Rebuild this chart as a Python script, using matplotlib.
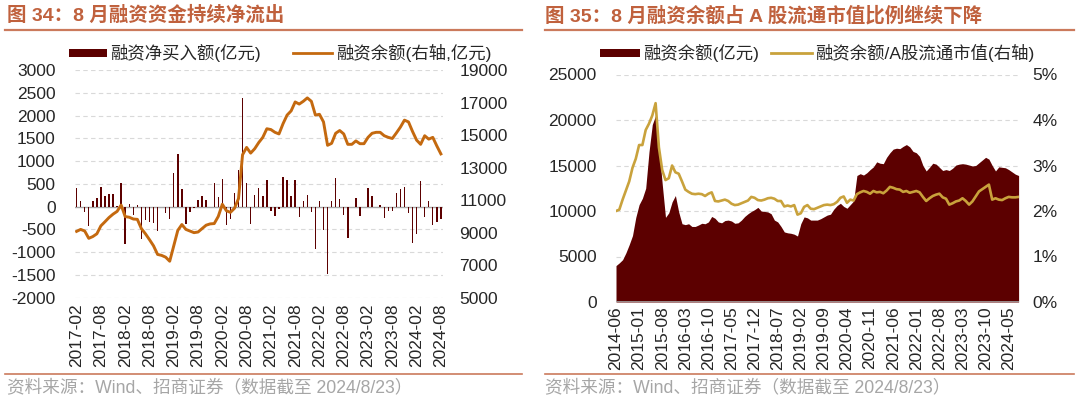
import numpy as np
import pandas as pd
import matplotlib
matplotlib.use("Agg")
import matplotlib.pyplot as plt
from matplotlib.patches import Rectangle
from matplotlib.lines import Line2D

plt.rcParams['font.family'] = ['Liberation Sans', 'Noto Sans CJK SC']
plt.rcParams['axes.unicode_minus'] = False

# ---- left chart: monthly net financing buy (bars) and financing balance (line), 2017-02 .. 2024-08
left_months = pd.period_range("2017-02", "2024-08", freq="M").strftime("%Y-%m").tolist()
net_buy = [400, 115, -115, -420, 115, 200, 440, 230, 280, 280, 20, 515, -830, 55, -175, 40,
           -700, -300, -340, -355, -530, 0, -130, -280, 740, 1160, 380, -380, -115, -40,
           150, 230, 150, 0, 530, 210, 600, -400, -265, 300, 800, 2400, 530, -380, 265,
           415, 240, 580, -100, -210, -60, 660, 580, 235, 585, -225, 115, 265, -115, -930,
           115, -510, -1480, 115, 640, 175, -175, -680, 0, 200, -200, 0, 420, 240, 0,
           40, -240, -90, -90, 305, 390, 430, -140, -800, -600, 555, -225, 130, -400, -340, -280]
balance_left = [9080, 9200, 9100, 8650, 8760, 8930, 9420, 9670, 9930, 10140, 10310, 10700,
                9990, 9950, 9840, 9820, 9250, 8930, 8570, 8190, 7660, 7600, 7490, 7240,
                8190, 9140, 9500, 9200, 9100, 9000, 9040, 9250, 9460, 9540, 9560, 10000,
                10750, 10350, 10250, 10500, 11100, 13800, 14250, 13900, 14170, 14550, 14870,
                15400, 15350, 15180, 15080, 15710, 16240, 16500, 17050, 16920, 17090, 17300,
                17090, 16240, 16290, 15820, 14380, 14500, 15120, 15290, 15080, 14440, 14440,
                14650, 14480, 14480, 14870, 15120, 15180, 15180, 14970, 14870, 14800, 15140,
                15500, 15930, 15820, 15230, 14700, 14440, 14970, 14760, 14870, 14340, 13850]

# ---- right chart: financing balance (area) and balance / A-share float cap (line), 2014-06 .. 2024-08
right_months = pd.period_range("2014-06", "2024-08", freq="M").strftime("%Y-%m").tolist()
balance_right = [4000, 4300, 4650, 5400, 6300, 7300, 9300, 10700, 11400, 12500, 16500, 19500,
                 20500, 17000, 13000, 9300, 9800, 11000, 11700, 9900, 8600, 8500, 8600, 8300,
                 8300, 8460, 8650, 8600, 8800, 9400, 9200, 8800, 8700, 8950, 9000, 8900,
                 8650, 8700, 9000, 9400, 9700, 9950, 10150, 10400, 10000, 9950, 9900, 9700,
                 9000, 8800, 8300, 7700, 7600, 7550, 7450, 7250, 8600, 9350, 9250, 9000,
                 9000, 9000, 9150, 9350, 9550, 9650, 10200, 10600, 10850, 10500, 10300, 10700,
                 11100, 13900, 14100, 13950, 14200, 14550, 14850, 15400, 15250, 15200, 15900, 16400,
                 16800, 16900, 16850, 17100, 17300, 17050, 16550, 16400, 16000, 15000, 14400, 14800,
                 15250, 15150, 14800, 14450, 14550, 14450, 14700, 15050, 15150, 15200, 15150, 15050,
                 14950, 15000, 15300, 15600, 15900, 15700, 15000, 14400, 14850, 14800, 14750, 14550,
                 14300, 14050, 13900]
ratio = [2.00, 2.03, 2.25, 2.45, 2.65, 2.95, 3.15, 3.45, 3.45, 3.78, 3.92, 4.10,
         4.37, 3.40, 2.90, 2.68, 2.72, 3.00, 2.85, 2.82, 2.65, 2.47, 2.42, 2.38,
         2.37, 2.38, 2.37, 2.33, 2.38, 2.41, 2.22, 2.21, 2.23, 2.25, 2.22, 2.16,
         2.13, 2.14, 2.17, 2.20, 2.23, 2.31, 2.29, 2.24, 2.23, 2.25, 2.28, 2.29,
         2.27, 2.22, 2.22, 2.10, 2.12, 2.10, 2.13, 1.92, 1.95, 2.09, 2.13, 2.05,
         2.04, 2.07, 2.10, 2.13, 2.14, 2.13, 2.15, 2.20, 2.29, 2.32, 2.18, 2.25,
         2.23, 2.37, 2.41, 2.44, 2.42, 2.38, 2.44, 2.41, 2.42, 2.39, 2.45, 2.53,
         2.51, 2.48, 2.47, 2.42, 2.44, 2.40, 2.42, 2.44, 2.41, 2.31, 2.22, 2.28,
         2.33, 2.36, 2.38, 2.30, 2.27, 2.14, 2.17, 2.21, 2.23, 2.28, 2.22, 2.14,
         2.21, 2.32, 2.43, 2.48, 2.53, 2.58, 2.25, 2.28, 2.25, 2.24, 2.28, 2.31,
         2.30, 2.30, 2.31]

W, H = 1080, 399
title_color = "#C0613D"
rule_color = "#CB7A5C"
text_color = "#262626"
grid_color = "#D9D9D9"
bar_color = "#5C0000"
orange = "#C4690F"
gold = "#C9A23C"
fs = 12.5


def fx(x):
    return x / W


def fy(y):
    return 1 - y / H


fig = plt.figure(figsize=(10.8, 3.99), dpi=100)


def style_axes(ax):
    for s in ax.spines.values():
        s.set_visible(False)
    ax.tick_params(length=0, labelsize=fs, colors=text_color)


# ---------------- left chart ----------------
ax1 = fig.add_axes([fx(75), fy(297.6), fx(367.5), 227.3 / H])
x1 = np.arange(len(left_months))
ax1.bar(x1, net_buy, width=0.35, color=bar_color, zorder=3)
ax1.set_ylim(-2000, 3000)
ax1.set_yticks(np.arange(-2000, 3001, 500))
ax1.set_xlim(-0.4, len(left_months) - 0.6)
for v in np.arange(-2000, 3001, 500):
    if v != 0:
        ax1.axhline(v, color=grid_color, lw=0.8, ls=(0, (4, 3)), zorder=0)
ax1.axhline(0, color="#A6A6A6", lw=1, zorder=2)
ax1.set_xticks(x1[::6])
ax1.set_xticklabels(left_months[::6], rotation=90)
style_axes(ax1)
ax1.tick_params(axis="y", pad=14)
ax1.tick_params(axis="x", pad=4)

ax1b = ax1.twinx()
ax1b.plot(x1, balance_left, color=orange, lw=2.1, zorder=4)
ax1b.set_ylim(5000, 19000)
ax1b.set_yticks(np.arange(5000, 19001, 2000))
style_axes(ax1b)
ax1b.tick_params(axis="y", pad=12)

# ---------------- right chart ----------------
ax2 = fig.add_axes([fx(616), fy(302), fx(402.6), 227.5 / H])
x2 = np.arange(len(right_months))
ax2.fill_between(x2, 0, balance_right, color=bar_color, lw=0, zorder=2)
ax2.set_ylim(0, 25000)
ax2.set_yticks(np.arange(0, 25001, 5000))
ax2.set_xlim(0, len(right_months) - 1)
for v in np.arange(5000, 25001, 5000):
    ax2.axhline(v, color=grid_color, lw=0.8, ls=(0, (4, 3)), zorder=0)
ax2.axhline(0, color="#A6A6A6", lw=1.2, zorder=3)
ax2.set_xticks(x2[::7])
ax2.set_xticklabels(right_months[::7], rotation=90)
style_axes(ax2)
ax2.tick_params(axis="y", pad=14)
ax2.tick_params(axis="x", pad=3)

ax2b = ax2.twinx()
ax2b.plot(x2, ratio, color=gold, lw=1.9, zorder=4)
ax2b.set_ylim(0, 5)
ax2b.set_yticks(np.arange(0, 6, 1))
ax2b.set_yticklabels([f"{v}%" for v in range(6)])
style_axes(ax2b)
ax2b.tick_params(axis="y", pad=10)

# ---------------- titles, rules, legends, sources ----------------
fig.text(fx(7), fy(15.5), "图 34：8 月融资资金持续净流出", fontsize=14, fontweight="bold",
         color=title_color, va="center", ha="left")
fig.text(fx(545), fy(15.5), "图 35：8 月融资余额占 A 股流通市值比例继续下降", fontsize=14,
         fontweight="bold", color=title_color, va="center", ha="left")

for x0, x1_ in [(5, 522), (545, 1074)]:
    fig.add_artist(Line2D([fx(x0), fx(x1_)], [fy(30), fy(30)], color=rule_color, lw=1.6))
    fig.add_artist(Line2D([fx(x0), fx(x1_)], [fy(374), fy(374)], color=rule_color, lw=1.2))

src = "资料来源：Wind、招商证券（数据截至 2024/8/23）"
fig.text(fx(7), fy(388), src, fontsize=12.7, color="#A6A6A6", va="center", ha="left")
fig.text(fx(545), fy(388), src, fontsize=12.7, color="#A6A6A6", va="center", ha="left")

# left legend
fig.add_artist(Rectangle((fx(69), fy(57)), fx(38), 8 / H, color=bar_color, lw=0))
fig.text(fx(110), fy(53), "融资净买入额(亿元)", fontsize=fs, color=text_color, va="center")
fig.add_artist(Line2D([fx(293), fx(332)], [fy(53), fy(53)], color=orange, lw=2))
fig.text(fx(336), fy(53), "融资余额(右轴,亿元)", fontsize=fs, color=text_color, va="center")

# right legend
fig.add_artist(Rectangle((fx(600), fy(57)), fx(40), 8 / H, color=bar_color, lw=0))
fig.text(fx(643), fy(53), "融资余额(亿元)", fontsize=fs, color=text_color, va="center")
fig.add_artist(Line2D([fx(771), fx(812)], [fy(53), fy(53)], color=gold, lw=2))
fig.text(fx(815), fy(53), "融资余额/A股流通市值(右轴)", fontsize=fs, color=text_color, va="center")

fig.savefig("out.png", dpi=100)
